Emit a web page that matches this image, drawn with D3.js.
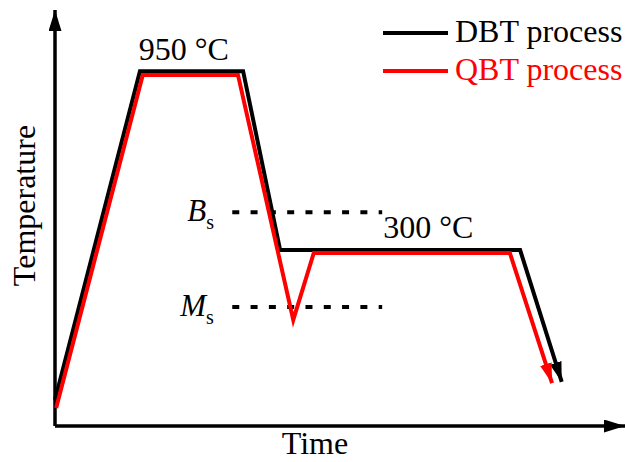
<!DOCTYPE html>
<html>
<head>
<meta charset="utf-8">
<script src="https://cdn.jsdelivr.net/npm/d3@7"></script>
<style>
	body { margin: 0; background: #fff; }
	text { font-family: "Liberation Serif", "Times New Roman", serif; }
</style>
</head>
<body>
<div id="chart"></div>
<script>

// schematic units: time 0..100, temperature level 0..100
var dbtTime  = [0, 14.9, 33.0, 39.5, 81.6, 88.9];
var dbtLevel = [6.3, 85.3, 85.3, 42.3, 42.3, 10.6];

var qbtTime  = [0.2, 15.4, 32.1, 41.8, 45.4, 79.8, 87.2];
var qbtLevel = [4.3, 84.4, 84.4, 25.5, 41.6, 41.6, 10.3];

var refNames = ["B", "M"];
var refLevel = [51.4, 28.6];
var refStart = 31.1;
var refEnd = 57.4;

var seriesNames  = ["DBT process", "QBT process"];
var seriesColors = ["#000000", "#ff0000"];

var tempLabels = ["950 °C", "300 °C"];

function init() {

	var width = 625;
	var height = 462;

	var svg = d3.select("div#chart")
		.append("svg")
		.attr("width", width)
		.attr("height", height);

	var x = d3.scaleLinear().domain([0, 100]).range([55, 625]);
	var y = d3.scaleLinear().domain([0, 100]).range([426, 10]);

	var defs = svg.append("defs");

	// arrow heads (axes + curves)
	var markers = [
		{ id: "axisArrow", color: "#000", w: 21, h: 13 },
		{ id: "arrow0", color: seriesColors[0], w: 20, h: 12 },
		{ id: "arrow1", color: seriesColors[1], w: 20, h: 12 }
	];
	markers.forEach(function(m) {
		defs.append("marker")
			.attr("id", m.id)
			.attr("markerUnits", "userSpaceOnUse")
			.attr("markerWidth", m.w)
			.attr("markerHeight", m.h)
			.attr("viewBox", "0 0 " + m.w + " " + m.h)
			.attr("refX", m.w)
			.attr("refY", m.h / 2)
			.attr("orient", "auto")
			.append("path")
			.attr("d", "M0,0 L" + m.w + "," + (m.h / 2) + " L0," + m.h + " Z")
			.attr("fill", m.color);
	});

	// axes
	svg.append("line")
		.attr("x1", x(0)).attr("y1", y(0))
		.attr("x2", x(0)).attr("y2", y(100))
		.attr("stroke", "#000")
		.attr("stroke-width", 3.5)
		.attr("marker-end", "url(#axisArrow)");

	svg.append("line")
		.attr("x1", x(0)).attr("y1", y(0))
		.attr("x2", x(100)).attr("y2", y(0))
		.attr("stroke", "#000")
		.attr("stroke-width", 3.5)
		.attr("marker-end", "url(#axisArrow)");

	svg.append("text")
		.attr("x", x(50) - 25)
		.attr("y", 454)
		.attr("text-anchor", "middle")
		.attr("font-size", 32)
		.text("Time");

	svg.append("text")
		.attr("transform", "translate(35," + y(53) + ") rotate(-90)")
		.attr("text-anchor", "middle")
		.attr("font-size", 32)
		.text("Temperature");

	// Bs / Ms dotted references
	refLevel.forEach(function(lv, i) {
		svg.append("line")
			.attr("x1", x(refStart)).attr("y1", y(lv))
			.attr("x2", x(refEnd)).attr("y2", y(lv))
			.attr("stroke", "#000")
			.attr("stroke-width", 4)
			.attr("stroke-dasharray", "7,11.3");

		var t = svg.append("text")
			.attr("x", x(refStart) - (i == 0 ? 45 : 52))
			.attr("y", y(lv) + 9)
			.attr("font-size", 31);
		t.append("tspan")
			.attr("font-style", "italic")
			.text(refNames[i]);
		t.append("tspan")
			.attr("font-size", 20)
			.attr("dy", 8)
			.text("s");
	});

	var line = d3.line()
		.x(function(d) { return x(d[0]); })
		.y(function(d) { return y(d[1]); });

	var series = [
		d3.zip(dbtTime, dbtLevel),
		d3.zip(qbtTime, qbtLevel)
	];

	series.forEach(function(pts, i) {
		svg.append("path")
			.datum(pts)
			.attr("d", line)
			.attr("fill", "none")
			.attr("stroke", seriesColors[i])
			.attr("stroke-width", 4)
			.attr("stroke-linejoin", "miter")
			.attr("marker-end", "url(#arrow" + i + ")");
	});

	// temperature labels
	svg.append("text")
		.attr("x", x(14.7))
		.attr("y", 60)
		.attr("font-size", 32)
		.text(tempLabels[0]);

	svg.append("text")
		.attr("x", x(57.6))
		.attr("y", 238)
		.attr("font-size", 32)
		.text(tempLabels[1]);

	// legend
	var legend = svg.append("g");
	seriesNames.forEach(function(name, i) {
		var ly = 33 + i * 38;
		legend.append("line")
			.attr("x1", 383).attr("x2", 448)
			.attr("y1", ly).attr("y2", ly)
			.attr("stroke", seriesColors[i])
			.attr("stroke-width", 4);
		legend.append("text")
			.attr("x", 455)
			.attr("y", ly + 9)
			.attr("font-size", 32)
			.attr("fill", seriesColors[i])
			.text(name);
	});
}

init();
</script>
</body>
</html>
